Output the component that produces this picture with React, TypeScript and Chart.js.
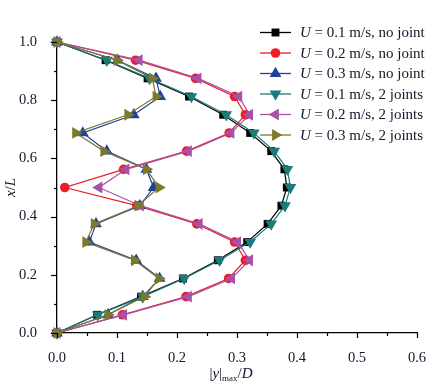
import React, { useEffect, useRef } from 'react';
import { Chart, registerables } from 'chart.js';

Chart.register(...registerables);

// x/L positions (vertical axis)
const xL = [0, 0.0625, 0.125, 0.1875, 0.25, 0.3125, 0.375, 0.4375, 0.5, 0.5625, 0.625, 0.6875, 0.75, 0.8125, 0.875, 0.9375, 1.0];

// |y|max/D values (horizontal axis)
const u01NoJoint = [0, 0.067, 0.140, 0.210, 0.268, 0.317, 0.351, 0.374, 0.383, 0.379, 0.357, 0.322, 0.277, 0.220, 0.151, 0.081, 0];
const u02NoJoint = [0, 0.109, 0.215, 0.286, 0.314, 0.296, 0.233, 0.133, 0.013, 0.111, 0.216, 0.287, 0.314, 0.296, 0.231, 0.131, 0];
const u03NoJoint = [0, 0.085, 0.143, 0.171, 0.132, 0.054, 0.065, 0.138, 0.161, 0.149, 0.083, 0.043, 0.128, 0.172, 0.165, 0.101, 0];
const u01TwoJoints = [0, 0.068, 0.143, 0.212, 0.271, 0.322, 0.357, 0.380, 0.389, 0.384, 0.362, 0.328, 0.282, 0.224, 0.154, 0.083, 0];
const u02TwoJoints = [0, 0.111, 0.219, 0.291, 0.321, 0.301, 0.237, 0.139, 0.070, 0.115, 0.219, 0.290, 0.321, 0.303, 0.235, 0.137, 0];
const u03TwoJoints = [0, 0.085, 0.146, 0.170, 0.129, 0.048, 0.062, 0.135, 0.170, 0.149, 0.078, 0.031, 0.118, 0.165, 0.159, 0.100, 0];

const seriesLabels = [
  'U = 0.1 m/s, no joint',
  'U = 0.2 m/s, no joint',
  'U = 0.3 m/s, no joint',
  'U = 0.1 m/s, 2 joints',
  'U = 0.2 m/s, 2 joints',
  'U = 0.3 m/s, 2 joints',
];
const seriesValues = [u01NoJoint, u02NoJoint, u03NoJoint, u01TwoJoints, u02TwoJoints, u03TwoJoints];
const seriesColors = ['#000000', '#ee1c25', '#21409a', '#1a7b78', '#a652a8', '#7b7a2a'];
const seriesStyles = ['rect', 'circle', 'triangle', 'triangle', 'triangle', 'triangle'];
const seriesRotation = [0, 0, 0, 180, -90, 90];
const seriesRadius = [5.6, 4.8, 6.8, 6.8, 6.8, 6.8];

const xTickLabels = ['0.0', '0.1', '0.2', '0.3', '0.4', '0.5', '0.6'];
const yTickLabels = ['0.0', '0.2', '0.4', '0.6', '0.8', '1.0'];

const SERIF = '"Liberation Serif", "Times New Roman", serif';
const TEXT = '#15152a';

function drawMarker(ctx: CanvasRenderingContext2D, style: string, x: number, y: number, r: number, rotDeg: number, color: string) {
  ctx.save();
  ctx.fillStyle = color;
  ctx.beginPath();
  if (style === 'circle') {
    ctx.arc(x, y, r, 0, Math.PI * 2);
  } else if (style === 'rect') {
    const s = Math.SQRT1_2 * r;
    ctx.rect(x - s, y - s, 2 * s, 2 * s);
  } else {
    let rad = (rotDeg * Math.PI) / 180;
    ctx.moveTo(x + Math.sin(rad) * r, y - Math.cos(rad) * r);
    rad += (2 * Math.PI) / 3;
    ctx.lineTo(x + Math.sin(rad) * r, y - Math.cos(rad) * r);
    rad += (2 * Math.PI) / 3;
    ctx.lineTo(x + Math.sin(rad) * r, y - Math.cos(rad) * r);
    ctx.closePath();
  }
  ctx.fill();
  ctx.restore();
}

const decorPlugin = {
  id: 'decor',
  afterDraw(chart: any) {
    const ctx: CanvasRenderingContext2D = chart.ctx;
    const { left, right, top, bottom } = chart.chartArea;
    const xs = chart.scales.x;
    const ys = chart.scales.y;
    ctx.save();
    ctx.strokeStyle = '#000';
    ctx.lineWidth = 1.2;
    // x ticks (major every 0.1, minor every 0.05)
    for (let i = 0; i <= 12; i++) {
      const v = i * 0.05;
      const px = Math.round(xs.getPixelForValue(v)) + 0.5;
      const len = i % 2 === 0 ? 5 : 3;
      ctx.beginPath();
      ctx.moveTo(px, bottom);
      ctx.lineTo(px, bottom + len);
      ctx.stroke();
    }
    // y ticks (major every 0.2, minor every 0.1)
    for (let i = 0; i <= 10; i++) {
      const v = i * 0.1;
      const py = Math.round(ys.getPixelForValue(v)) + 0.5;
      const len = i % 2 === 0 ? 6 : 3;
      ctx.beginPath();
      ctx.moveTo(left, py);
      ctx.lineTo(left - len, py);
      ctx.stroke();
    }

    // y-axis title: x/L
    ctx.fillStyle = TEXT;
    ctx.textBaseline = 'middle';
    ctx.save();
    ctx.translate(11, (top + bottom) / 2);
    ctx.rotate(-Math.PI / 2);
    const yParts: [string, string][] = [['x', 'italic'], ['/', 'normal'], ['L', 'italic']];
    let w = 0;
    for (const [t, st] of yParts) {
      ctx.font = `${st} 15px ${SERIF}`;
      w += ctx.measureText(t).width;
    }
    let cx = -w / 2;
    for (const [t, st] of yParts) {
      ctx.font = `${st} 15px ${SERIF}`;
      ctx.fillText(t, cx, 0);
      cx += ctx.measureText(t).width;
    }
    ctx.restore();

    // x-axis title: |y|max/D
    ctx.textBaseline = 'alphabetic';
    const xParts: [string, string, number, number][] = [
      ['|', 'normal', 15, 0],
      ['y', 'italic', 15, 0],
      ['|', 'normal', 15, 0],
      ['max', 'normal', 9, 3],
      ['/', 'normal', 15, 0],
      ['D', 'italic', 15, 0],
    ];
    w = 0;
    for (const [t, st, sz] of xParts) {
      ctx.font = `${st} ${sz}px ${SERIF}`;
      w += ctx.measureText(t).width;
    }
    cx = (left + right) / 2 - 6 - w / 2;
    const baseY = 378;
    for (const [t, st, sz, dy] of xParts) {
      ctx.font = `${st} ${sz}px ${SERIF}`;
      ctx.fillText(t, cx, baseY + dy);
      cx += ctx.measureText(t).width;
    }

    // Legend
    const lx0 = 260;
    const lx1 = 291;
    const ly0 = 32.5;
    const dy = 20.5;
    ctx.textBaseline = 'middle';
    seriesLabels.forEach((label, i) => {
      const y = ly0 + i * dy;
      ctx.strokeStyle = seriesColors[i];
      ctx.lineWidth = 1.3;
      ctx.beginPath();
      ctx.moveTo(lx0, y);
      ctx.lineTo(lx1, y);
      ctx.stroke();
      drawMarker(ctx, seriesStyles[i], (lx0 + lx1) / 2, y, seriesRadius[i], seriesRotation[i], seriesColors[i]);
      ctx.fillStyle = TEXT;
      const first = label.slice(0, 1);
      const rest = label.slice(1);
      let tx = 300;
      ctx.font = `italic 15px ${SERIF}`;
      ctx.fillText(first, tx, y + 1);
      tx += ctx.measureText(first).width;
      ctx.font = `normal 15px ${SERIF}`;
      ctx.fillText(rest, tx, y + 1);
    });
    ctx.restore();
  },
};

export default function App() {
  const canvasRef = useRef<HTMLCanvasElement | null>(null);

  useEffect(() => {
    const canvas = canvasRef.current;
    if (!canvas) return;
    const datasets = seriesValues.map((vals, i) => ({
      label: seriesLabels[i],
      data: vals.map((v, j) => ({ x: v, y: xL[j] })),
      showLine: true,
      borderColor: seriesColors[i],
      backgroundColor: seriesColors[i],
      borderWidth: 1.2,
      pointStyle: seriesStyles[i],
      pointRotation: seriesRotation[i],
      pointRadius: seriesRadius[i],
      pointBorderWidth: 0,
      pointBackgroundColor: seriesColors[i],
      tension: 0,
      clip: false,
      order: 5 - i,
    }));

    const chart = new Chart(canvas, {
      type: 'scatter',
      data: { datasets: datasets as any },
      options: {
        animation: false,
        responsive: false,
        devicePixelRatio: 1,
        layout: { padding: { left: 0, right: 29, top: 42, bottom: 0 } },
        plugins: {
          legend: { display: false },
          tooltip: { enabled: false },
          title: { display: false },
        },
        scales: {
          x: {
            type: 'linear',
            min: 0,
            max: 0.6,
            grid: { display: false },
            border: { display: true, color: '#000', width: 1.3 },
            ticks: {
              stepSize: 0.1,
              padding: 8,
              color: TEXT,
              font: { family: SERIF, size: 14.5 },
              callback: (v: any) => xTickLabels[Math.round(Number(v) * 10)] ?? '',
            },
            afterFit: (s: any) => {
              s.height = 55;
            },
          },
          y: {
            type: 'linear',
            min: 0,
            max: 1.0,
            grid: { display: false },
            border: { display: true, color: '#000', width: 1.3 },
            ticks: {
              stepSize: 0.2,
              padding: 12,
              color: TEXT,
              font: { family: SERIF, size: 14.5 },
              callback: (v: any) => yTickLabels[Math.round(Number(v) * 5)] ?? '',
            },
            afterFit: (s: any) => {
              s.width = 57;
            },
          },
        },
      },
      plugins: [decorPlugin],
    });
    return () => chart.destroy();
  }, []);

  return (
    <div style={{ position: 'absolute', left: 0, top: 0, width: 446, height: 388, background: '#fff' }}>
      <canvas ref={canvasRef} width={446} height={388} style={{ display: 'block' }} />
    </div>
  );
}
